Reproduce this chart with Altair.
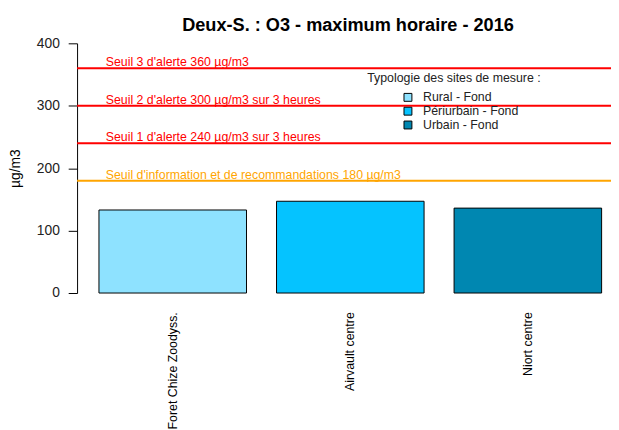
import altair as alt
import pandas as pd

# Data
sites = ["Foret Chize Zoodyss.", "Airvault centre", "Niort centre"]
values = [133, 147, 136]
types = ["Rural - Fond", "Périurbain - Fond", "Urbain - Fond"]
type_colors = ["#8EE2FF", "#05C3FF", "#0087B1"]

thr_values = [360, 300, 240, 180]
thr_labels = [
    "Seuil 3 d'alerte 360 µg/m3",
    "Seuil 2 d'alerte 300 µg/m3 sur 3 heures",
    "Seuil 1 d'alerte 240 µg/m3 sur 3 heures",
    "Seuil d'information et de recommandations 180 µg/m3",
]
thr_colors = ["#FF0000", "#FF0000", "#FF0000", "#FFA500"]

y_ticks = [0, 100, 200, 300, 400]

bars_df = pd.DataFrame({"site": sites, "value": values, "type": types})
thr_df = pd.DataFrame({"value": thr_values, "label": thr_labels, "col": thr_colors})

FONT = "Liberation Sans"

y_scale = alt.Scale(domain=[0, 400], nice=False, zero=True)

bars = alt.Chart(bars_df).mark_bar(stroke="black", strokeWidth=1).encode(
    x=alt.X(
        "site:N",
        sort=sites,
        scale=alt.Scale(paddingInner=0.169, paddingOuter=0.088, align=0.7),
        axis=alt.Axis(
            title=None,
            labelAngle=-90,
            labelPadding=19,
            labelFontSize=12.5,
            labelFont=FONT,
            labelColor="black",
            domain=False,
            ticks=False,
            grid=False,
        ),
    ),
    y=alt.Y(
        "value:Q",
        scale=y_scale,
        axis=alt.Axis(
            title="µg/m3",
            values=y_ticks,
            grid=False,
            tickSize=9,
            tickColor="black",
            domainColor="black",
            labelPadding=9,
            labelFontSize=14,
            labelFont=FONT,
            labelColor="#222222",
            titleFont=FONT,
            titleFontSize=14,
            titleFontWeight="normal",
            titleColor="black",
            titlePadding=14,
        ),
    ),
    fill=alt.Fill(
        "type:N",
        sort=types,
        scale=alt.Scale(domain=types, range=type_colors),
        legend=alt.Legend(
            title="Typologie des sites de mesure :",
            orient="none",
            legendX=294,
            legendY=29,
            titleFont=FONT,
            titleFontSize=12.5,
            titleFontWeight="normal",
            titleColor="#222222",
            titlePadding=7,
            labelFont=FONT,
            labelFontSize=12.5,
            labelColor="#222222",
            symbolType="square",
            symbolSize=64,
            symbolStrokeColor="black",
            symbolStrokeWidth=1,
            symbolOffset=35,
            labelOffset=9,
            rowPadding=1,
            padding=0,
        ),
    ),
)

rules = alt.Chart(thr_df).mark_rule(strokeWidth=2).encode(
    y=alt.Y("value:Q", scale=y_scale),
    stroke=alt.Stroke("col:N", scale=None),
)

texts = alt.Chart(thr_df).mark_text(
    align="left", baseline="alphabetic", dy=-2, fontSize=12.5, font=FONT
).encode(
    y=alt.Y("value:Q", scale=y_scale),
    x=alt.value(29),
    text="label:N",
    color=alt.Color("col:N", scale=None),
)

chart = (
    alt.layer(bars, rules, texts)
    .resolve_scale(fill="independent", stroke="independent", color="independent")
    .properties(
        width=541,
        height=253,
        background="white",
        autosize=alt.AutoSizeParams(type="none"),
        padding={"left": 70, "top": 33, "right": 0, "bottom": 136},
        title=alt.TitleParams(
            "Deux-S. : O3 - maximum horaire - 2016",
            font=FONT,
            fontSize=18.4,
            fontWeight="bold",
            anchor="middle",
            frame="group",
            offset=2,
            dx=4,
            color="black",
        ),
    )
    .configure_view(stroke="transparent", strokeWidth=0)
    .configure_axis(grid=False)
)

chart.save("out.html", embed_options={"renderer": "svg", "actions": False})
